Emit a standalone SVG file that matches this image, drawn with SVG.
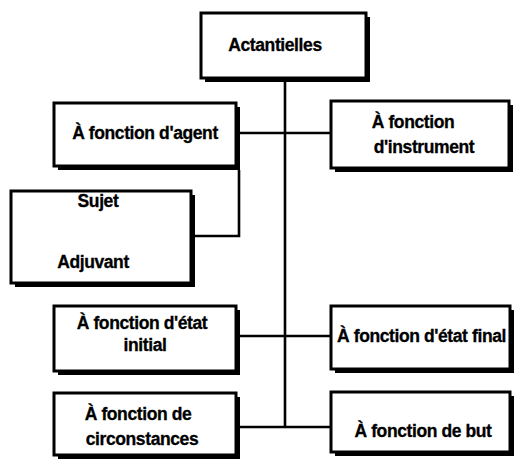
<svg xmlns="http://www.w3.org/2000/svg" width="514" height="461" viewBox="0 0 514 461">
  <style>
    .shadow { fill: #000; }
    .box { fill: #fff; stroke: #000; stroke-width: 3; }
    .lbl { font-family: "Liberation Sans", Arial, sans-serif; font-weight: bold; font-size: 17.5px; letter-spacing: -0.4px; fill: #000; stroke: #000; stroke-width: 0.3; }
    .mid { text-anchor: middle; }
    .wire { fill: none; stroke: #000; stroke-width: 2.6; }
  </style>
  <rect width="514" height="461" fill="#fff"/>

  <!-- connectors -->
  <g id="connectors">
    <path class="wire" d="M285 82 V427"/>
    <path class="wire" d="M240 133 H331"/>
    <path class="wire" d="M239 170 V236 H195"/>
    <path class="wire" d="M240 336 H331"/>
    <path class="wire" d="M240 427 H331"/>
  </g>

  <g id="actantielles">
    <rect class="shadow" x="205" y="17" width="165" height="65"/>
    <rect class="box" x="201" y="13" width="165" height="65"/>
    <text class="lbl mid" x="275" y="51">Actantielles</text>
  </g>

  <g id="agent">
    <rect class="shadow" x="58" y="107" width="182" height="63"/>
    <rect class="box" x="54" y="103" width="182" height="63"/>
    <text class="lbl mid" x="145" y="139">À fonction d'agent</text>
  </g>

  <g id="instrument">
    <rect class="shadow" x="335" y="105" width="178" height="67"/>
    <rect class="box" x="331" y="101" width="178" height="67"/>
    <text class="lbl mid" x="413" y="128">À fonction</text>
    <text class="lbl mid" x="424" y="153">d'instrument</text>
  </g>

  <g id="sujet-adjuvant">
    <rect class="shadow" x="15" y="195" width="180" height="92"/>
    <rect class="box" x="11" y="191" width="180" height="92"/>
    <text class="lbl mid" x="98" y="207">Sujet</text>
    <text class="lbl mid" x="93" y="268">Adjuvant</text>
  </g>

  <g id="etat-initial">
    <rect class="shadow" x="58" y="310" width="182" height="65"/>
    <rect class="box" x="54" y="306" width="182" height="65"/>
    <text class="lbl mid" x="142" y="329">À fonction d'état</text>
    <text class="lbl mid" x="145" y="351">initial</text>
  </g>

  <g id="etat-final">
    <rect class="shadow" x="335" y="310" width="179" height="63"/>
    <rect class="box" x="331" y="306" width="179" height="63"/>
    <text class="lbl" x="337" y="342">À fonction d'état final</text>
  </g>

  <g id="circonstances">
    <rect class="shadow" x="58" y="397" width="182" height="62"/>
    <rect class="box" x="54" y="393" width="182" height="62"/>
    <text class="lbl mid" x="138" y="420">À fonction de</text>
    <text class="lbl mid" x="142" y="445">circonstances</text>
  </g>

  <g id="but">
    <rect class="shadow" x="335" y="396" width="179" height="60"/>
    <rect class="box" x="331" y="392" width="179" height="60"/>
    <text class="lbl mid" x="423" y="437">À fonction de but</text>
  </g>
</svg>
